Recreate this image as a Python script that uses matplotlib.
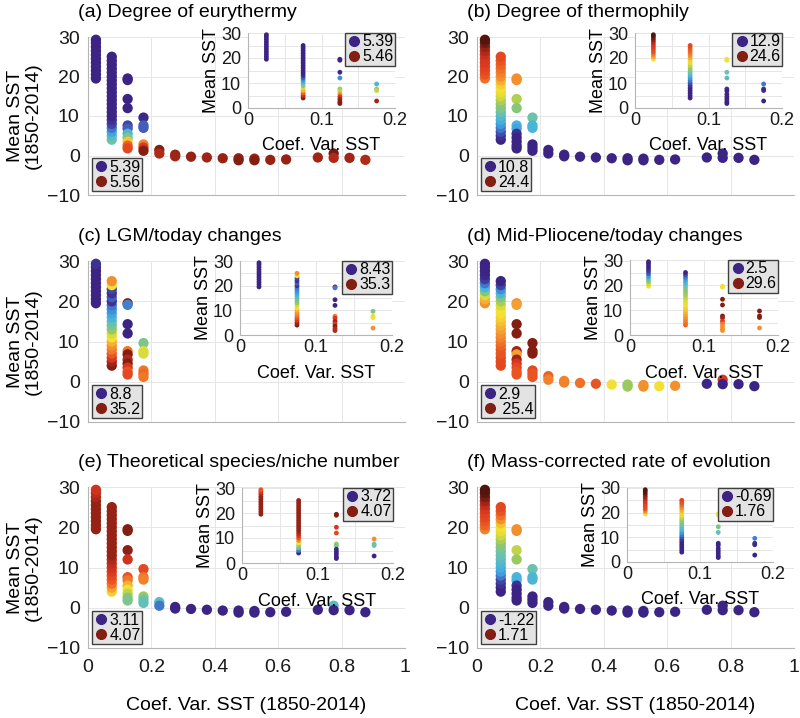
import numpy as np
import matplotlib
matplotlib.use('Agg')
import matplotlib.pyplot as plt
from matplotlib.colors import LinearSegmentedColormap
from matplotlib.lines import Line2D

plt.rcParams['font.family'] = ['Liberation Sans', 'DejaVu Sans']

# Coef. var. bins (x) and mean SST of the cells in each bin (y)
cv_main = [0.025, 0.075, 0.125, 0.175, 0.225, 0.275, 0.325, 0.375, 0.425,
           0.475, 0.525, 0.575, 0.625, 0.725, 0.775, 0.825, 0.875]
sst_main = [
    [19.5, 20.5, 21.5, 22.5, 23.5, 24.5, 25.5, 26.5, 27.5, 28.5, 29.3],
    [4, 5, 6, 7, 8, 9, 10, 11, 12, 13, 14, 15, 16, 17, 18, 19, 20, 21, 22, 23, 24, 25],
    [19.5, 19.1, 14.3, 12.0, 7.6, 6.8, 5.5, 4.5, 3.5, 2.5, 1.8],
    [9.6, 7.6, 7.0, 2.8, 2.0, 1.2],
    [1.4, 0.5],
    [0.2, -0.2],
    [-0.3],
    [-0.5],
    [-0.7],
    [-0.7, -1.2],
    [-0.8, -1.2],
    [-1.1],
    [-1.0],
    [-0.5],
    [0.5, -0.6],
    [-0.6],
    [-1.1],
]
cv_inset = [0.025, 0.075, 0.125, 0.175]
sst_inset = [sst_main[0], sst_main[1], sst_main[2], [9.6, 7.6, 7.0, 2.8]]

# position of each point on the colour scale (0 = legend min, 1 = legend max)
col_a = [
    [0, 0, 0, 0, 0, 0, 0, 0, 0, 0, 0],
    [.42, .38, .30, .20, .10, .05, 0, 0, 0, 0, 0, 0, 0, 0, 0, 0, 0, 0, 0, 0, 0, 0],
    [0, 0, 0, 0, .10, .15, .35, .45, .65, .78, .82],
    [.02, .15, .15, .74, .84, .95],
    [.95, .90], [.93, .92], [.93], [.92], [.93], [.93, .95], [.92, .95],
    [.93], [.93], [.92], [.97, .90], [.92], [.90],
]
col_a_in = [
    [0, 0, 0, 0, 0, 0, 0, 0, 0, 0, 0],
    [.95, .88, .78, .68, .58, .48, .38, .28, .15, .05, 0, 0, 0, 0, 0, 0, 0, 0, 0, 0, 0, 0],
    [0, 0, .02, .25, .50, .55, .72, .85, .92, .95, .95],
    [.35, .50, .55, .92],
]
col_b = [
    [.76, .80, .82, .83, .84, .85, .87, .90, .93, .97, 1.0],
    [0, .05, .12, .20, .27, .32, .36, .40, .45, .48, .52, .56, .60, .62, .64, .68,
     .72, .74, .76, .78, .80, .82],
    [.72, .72, .53, .47, .33, .30, .05, 0, 0, 0, 0],
    [.42, .34, .34, 0, 0, 0],
    [0, 0], [0, 0], [0], [0], [0], [0, 0], [0, 0], [0], [0], [0], [0, 0], [0], [0],
]
col_b_in = [
    [.62, .70, .75, .80, .82, .84, .86, .90, .95, .98, 1.0],
    [0, 0, 0, 0, 0, .05, .12, .20, .27, .33, .40, .45, .50, .55, .60, .64,
     .68, .72, .75, .78, .80, .82],
    [.62, .62, .42, .38, .05, 0, 0, 0, 0, 0, 0],
    [.20, .05, .02, 0],
]
col_c = [
    [0, 0, 0, 0, 0, 0, 0, 0, 0, 0, .05],
    [.95, .92, .85, .80, .75, .72, .68, .62, .58, .50, .45, .40, .35, .30, .25, .20,
     .05, .15, .05, .10, .62, .72],
    [.95, .22, 0, 0, .75, .95, .90, .95, .85, .80, .82],
    [.45, .60, .58, .75, .77, .75],
]
col_c_in = [
    [0, 0, 0, 0, 0, 0, 0, 0, 0, 0, 0],
    [.95, .92, .85, .80, .75, .72, .68, .62, .58, .50, .45, .40, .35, .30, .25, .20,
     .05, .15, .05, .10, .62, .72],
    [.95, .20, 0, 0, .75, .85, .92, .85, .95, .90, .90],
    [.45, .60, .62, .72],
]
col_d = [
    [.72, .68, .58, .45, .33, .20, .08, .02, 0, 0, 0],
    [.82, .82, .82, .80, .80, .78, .76, .74, .72, .70, .68, .66, .64, .62, .62, .58,
     .52, .45, .35, .25, .10, 0],
    [.72, .70, .95, .95, .92, .70, .92, .85, .82, .80, .80],
    [.95, .95, .95, .82, .80, .80],
    [.78, .74], [.74, .74], [.76], [.80], [.62], [.50, .50], [.72, .72],
    [.62], [.72], [0], [.85, 0], [0], [0],
]
col_d_in = [
    [.62, .56, .48, .38, .28, .15, .08, .03, 0, 0, 0],
    [.78, .76, .74, .72, .70, .68, .66, .64, .62, .60, .58, .55, .52, .50, .48, .45,
     .40, .35, .30, .22, .12, 0],
    [.62, .62, .95, .95, .95, .92, .85, .75, .72, .72, .72],
    [.95, .95, .95, .72],
]
col_e = [
    [.93, .93, .93, .93, .93, .93, .93, .93, .91, .89, .86],
    [.64, .70, .76, .80, .82, .84, .86, .88, .90, .93, .93, .93, .93, .93, .93, .93,
     .93, .93, .93, .93, .93, .93],
    [.95, .95, .94, .86, .80, .75, .68, .62, .55, .48, .45],
    [.82, .76, .74, .50, .42, .40],
    [.38, .20], [0, 0], [0], [0], [0], [0, 0], [0, 0], [0], [0], [0], [.38, 0], [0], [0],
]
col_e_in = [
    [.93, .93, .93, .93, .93, .93, .93, .93, .90, .85, .80],
    [0, .20, .40, .50, .62, .72, .80, .86, .90, .93, .93, .93, .93, .93, .93, .93,
     .93, .93, .93, .93, .93, .93],
    [.95, .95, .85, .82, .50, .45, .02, 0, 0, 0, 0],
    [.72, .42, .42, 0],
]
col_f = [
    [.74, .78, .80, .82, .83, .85, .88, .92, .96, .99, 1.0],
    [0, 0, .05, .10, .20, .28, .32, .35, .38, .40, .42, .45, .48, .52, .56, .60,
     .62, .66, .72, .76, .80, .82],
    [.72, .72, .55, .50, .35, .33, .05, 0, 0, 0, 0],
    [.42, .35, .35, 0, 0, 0],
    [0, 0], [0, 0], [0], [0], [0], [0, 0], [0, 0], [0], [0], [0], [0, 0], [0], [0],
]
col_f_in = [
    [.62, .72, .80, .82, .83, .85, .88, .92, .96, 1.0, 1.0],
    [0, 0, 0, 0, 0, .05, .12, .20, .27, .33, .38, .42, .45, .50, .55, .60,
     .64, .68, .72, .76, .80, .82],
    [.62, .62, .45, .40, .03, 0, 0, 0, 0, 0, 0],
    [.22, .05, .03, 0],
]

titles = ['(a) Degree of eurythermy', '(b) Degree of thermophily',
          '(c) LGM/today changes', '(d) Mid-Pliocene/today changes',
          '(e) Theoretical species/niche number', '(f) Mass-corrected rate of evolution']
main_cols = [col_a, col_b, col_c, col_d, col_e, col_f]
inset_cols = [col_a_in, col_b_in, col_c_in, col_d_in, col_e_in, col_f_in]
main_range = [('5.39', '5.56'), ('10.8', '24.4'), ('8.8', '35.2'),
              ('2.9', ' 25.4'), ('3.11', '4.07'), ('-1.22', '1.71')]
inset_range = [('5.39', '5.46'), ('12.9', '24.6'), ('8.43', '35.3'),
               ('2.5', '29.6'), ('3.72', '4.07'), ('-0.69', '1.76')]

cmap = LinearSegmentedColormap.from_list('sst', [
    (0.00, '#3b2484'), (0.08, '#3f3c9c'), (0.16, '#4263bd'), (0.25, '#3f8fd8'),
    (0.33, '#46b3e0'), (0.42, '#6cc2aa'), (0.50, '#98c860'), (0.56, '#c9d841'),
    (0.62, '#f4e032'), (0.70, '#f5a132'), (0.77, '#ee6a25'), (0.84, '#df3a20'),
    (0.92, '#a32517'), (1.00, '#55140e')])

W, H = 800, 718
fig = plt.figure(figsize=(W / 100, H / 100), dpi=100)

main_px = [(88, 405, 37, 195), (477, 794, 37, 195),
           (88, 405, 261, 422), (477, 794, 261, 422),
           (88, 405, 487, 648), (477, 794, 487, 648)]
inset_px = [(248, 395, 33, 108), (635, 782, 33, 108),
            (240, 392, 261, 335), (630, 778, 260, 335),
            (242, 393, 488, 563), (627, 773, 488, 562)]


def px_axes(box):
    x0, x1, y0, y1 = box
    return fig.add_axes([x0 / W, 1 - y1 / H, (x1 - x0) / W, (y1 - y0) / H])


def style(ax, fs):
    for s in ['top', 'right']:
        ax.spines[s].set_visible(False)
    for s in ['left', 'bottom']:
        ax.spines[s].set_color('#b5b5b5')
        ax.spines[s].set_linewidth(0.8)
    ax.tick_params(length=0, labelsize=fs, colors='#1a1a1a', pad=6)
    ax.grid(True, color='#e6e6e6', lw=0.7)
    ax.set_axisbelow(True)


def add_legend(ax, labels, loc, pad):
    handles = [Line2D([], [], marker='o', ls='none', ms=7, color=cmap(0.0)),
               Line2D([], [], marker='o', ls='none', ms=7, color=cmap(0.95))]
    leg = ax.legend(handles, labels, loc=loc, fontsize=11.5, frameon=True,
                    fancybox=False, borderpad=0.08, handletextpad=0.0,
                    labelspacing=0.0, handlelength=1.0, borderaxespad=pad)
    leg.get_frame().set_facecolor('#e3e3e3')
    leg.get_frame().set_edgecolor('#404040')
    leg.get_frame().set_linewidth(1.0)
    leg.get_frame().set_alpha(1)
    leg.set_zorder(10)


for k in range(6):
    ax = px_axes(main_px[k])
    style(ax, 14)
    for x, ys, vs in zip(cv_main, sst_main, main_cols[k]):
        ax.scatter([x] * len(ys), ys, c=vs, cmap=cmap, vmin=0, vmax=1, s=55,
                   edgecolors='none', clip_on=False, zorder=3)
    ax.set_xlim(0, 1)
    ax.set_ylim(-10, 30)
    ax.set_xticks([0, 0.2, 0.4, 0.6, 0.8, 1])
    ax.set_yticks([-10, 0, 10, 20, 30])
    ax.set_xticklabels(['0', '0.2', '0.4', '0.6', '0.8', '1'])
    if k < 4:
        ax.tick_params(labelbottom=False)
    else:
        ax.tick_params(axis='x', pad=8)
        ax.text(0.5, -0.36, 'Coef. Var. SST (1850-2014)', transform=ax.transAxes,
                ha='center', va='center', fontsize=14)
    if k % 2 == 0:
        ax.text(-0.20, 0.5, 'Mean SST\n(1850-2014)', transform=ax.transAxes,
                rotation=90, ha='center', va='center', fontsize=14,
                multialignment='center', linespacing=1.1)
    ax.text(-0.03, 1.155, titles[k], transform=ax.transAxes, ha='left',
            va='center', fontsize=14)
    add_legend(ax, main_range[k], 'lower left', 0.25)

    ins = px_axes(inset_px[k])
    style(ins, 13)
    ins.tick_params(axis='x', pad=3)
    ins.tick_params(axis='y', pad=5)
    ins.set_facecolor('white')
    for x, ys, vs in zip(cv_inset, sst_inset, inset_cols[k]):
        ins.scatter([x] * len(ys), ys, c=vs, cmap=cmap, vmin=0, vmax=1, s=12,
                    edgecolors='none', clip_on=False, zorder=3)
    ins.set_xlim(0, 0.2)
    ins.set_ylim(0, 30)
    ins.set_xticks([0, 0.1, 0.2])
    ins.set_xticklabels(['0', '0.1', '0.2'])
    ins.set_yticks([0, 10, 20, 30])
    ins.set_xticks([0.05, 0.15], minor=True)
    ins.set_yticks([5, 15, 25], minor=True)
    ins.grid(True, which='minor', color='#e6e6e6', lw=0.7)
    ins.tick_params(which='minor', length=0)
    ins.set_xlabel('Coef. Var. SST', fontsize=13, labelpad=6)
    ins.set_ylabel('Mean SST', fontsize=13, labelpad=1)
    add_legend(ins, inset_range[k], 'upper right', 0.0)

fig.savefig('out.png', dpi=100)
